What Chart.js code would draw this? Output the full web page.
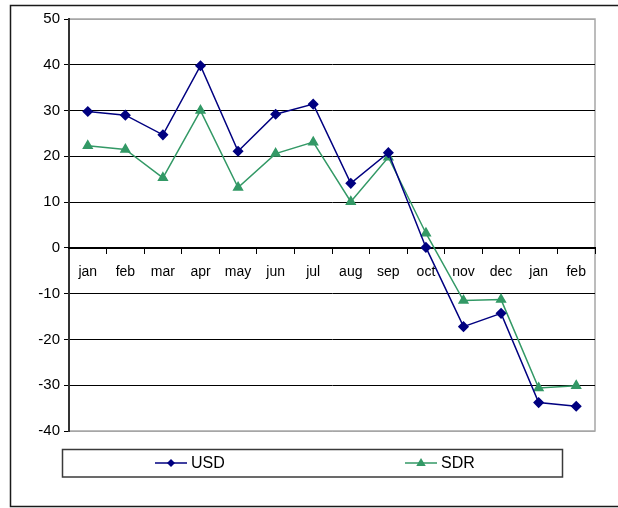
<!DOCTYPE html>
<html>
<head>
<meta charset="utf-8">
<script src="https://cdn.jsdelivr.net/npm/chart.js@4/dist/chart.umd.min.js"></script>
<style>
  html, body { margin: 0; padding: 0; background: #fff; }
  #wrap { width: 618px; height: 508px; position: relative; }
</style>
</head>
<body>
<div id="wrap"><canvas id="fx-chart"></canvas></div>
<script>
const months = ['jan', 'feb', 'mar', 'apr', 'may', 'jun', 'jul', 'aug', 'sep', 'oct', 'nov', 'dec', 'jan', 'feb'];
const usd = [29.8, 29.0, 24.7, 39.8, 21.1, 29.2, 31.4, 14.1, 20.8, 0.1, -17.2, -14.3, -33.8, -34.6];
const sdr = [22.3, 21.5, 15.3, 30.0, 13.2, 20.6, 23.1, 10.1, 19.8, 3.2, -11.5, -11.3, -30.6, -30.1];
const yMin = -40, yMax = 50, yStep = 10;

const FONT = 'Liberation Sans, Arial, sans-serif';

// outer frame + plot border, drawn behind everything
const framePlugin = {
    id: 'frame',
    beforeDraw(chart) {
        const ctx = chart.ctx;
        const a = chart.chartArea;
        ctx.save();
        ctx.strokeStyle = '#1a1a1a';
        ctx.lineWidth = 1.5;
        ctx.beginPath();
        ctx.moveTo(640, 5.5); ctx.lineTo(10.5, 5.5); ctx.lineTo(10.5, 506.5); ctx.lineTo(640, 506.5);
        ctx.stroke();
        ctx.strokeStyle = '#a6a6a6';
        ctx.lineWidth = 1.5;
        ctx.strokeRect(a.left, a.top, a.right - a.left, a.bottom - a.top);
        ctx.restore();
    }
};

function drawMarker(ctx, style, x, y, r, color) {
    ctx.fillStyle = color;
    ctx.beginPath();
    if (style === 'triangle') {
        ctx.moveTo(x, y - r);
        ctx.lineTo(x + r * 0.95, y + r * 0.6);
        ctx.lineTo(x - r * 0.95, y + r * 0.6);
    } else {
        ctx.moveTo(x, y - r);
        ctx.lineTo(x + r, y);
        ctx.lineTo(x, y + r);
        ctx.lineTo(x - r, y);
    }
    ctx.closePath();
    ctx.fill();
}

// legend box with line+marker samples
const legendPlugin = {
    id: 'boxLegend',
    afterDraw(chart) {
        const ctx = chart.ctx;
        ctx.save();
        ctx.strokeStyle = '#3a3a3a';
        ctx.lineWidth = 1.5;
        ctx.strokeRect(62.5, 449.5, 500, 27.5);
        const starts = [155, 405];
        chart.data.datasets.forEach((ds, i) => {
            const x0 = starts[i], y = 463;
            ctx.strokeStyle = ds.borderColor;
            ctx.lineWidth = 1.5;
            ctx.beginPath();
            ctx.moveTo(x0, y); ctx.lineTo(x0 + 32, y);
            ctx.stroke();
            drawMarker(ctx, ds.pointStyle, x0 + 16, y, ds.pointStyle === 'triangle' ? 5 : 4, ds.borderColor);
            ctx.fillStyle = '#000';
            ctx.font = '16px ' + FONT;
            ctx.textBaseline = 'middle';
            ctx.textAlign = 'left';
            ctx.fillText(ds.label, x0 + 36, y + 0.5);
        });
        ctx.restore();
    }
};

let ctx = document.getElementById('fx-chart');
let fxChart = new Chart(ctx, {
    type: 'line',
    plugins: [framePlugin, legendPlugin],
    data: {
        labels: months,
        datasets: [{
            label: 'USD',
            data: usd,
            borderColor: '#000080',
            backgroundColor: '#000080',
            borderWidth: 1.5,
            pointStyle: 'rectRot',
            pointRadius: 4.5,
            pointHoverRadius: 4.5,
            tension: 0
        }, {
            label: 'SDR',
            data: sdr,
            borderColor: '#339966',
            backgroundColor: '#339966',
            borderWidth: 1.5,
            pointStyle: 'triangle',
            pointRadius: 5,
            pointHoverRadius: 5,
            tension: 0
        }]
    },
    options: {
        responsive: true,
        maintainAspectRatio: false,
        animation: false,
        layout: { padding: { left: 0, top: 19, right: 23, bottom: 77 } },
        plugins: {
            legend: { display: false },
            tooltip: { enabled: false }
        },
        scales: {
            y: {
                min: yMin,
                max: yMax,
                afterFit(scale) { scale.width = 69; },
                ticks: {
                    stepSize: yStep,
                    color: '#000',
                    padding: 4,
                    font: { family: FONT, size: 15 }
                },
                grid: {
                    color: (c) => (c.tick && (c.tick.value === yMax || c.tick.value === yMin)) ? '#a6a6a6' : '#000',
                    tickColor: '#000',
                    tickLength: 5,
                    lineWidth: 1
                },
                border: { color: '#333', width: 2 }
            },
            x: {
                type: 'category',
                position: { y: 0 },
                offset: true,
                grid: {
                    offset: true,
                    drawOnChartArea: false,
                    color: '#000',
                    tickLength: 5
                },
                ticks: {
                    color: '#000',
                    padding: 11,
                    maxRotation: 0,
                    autoSkip: false,
                    font: { family: FONT, size: 14 }
                },
                border: { color: '#000', width: 2 }
            }
        }
    }
});
</script>
</body>
</html>
